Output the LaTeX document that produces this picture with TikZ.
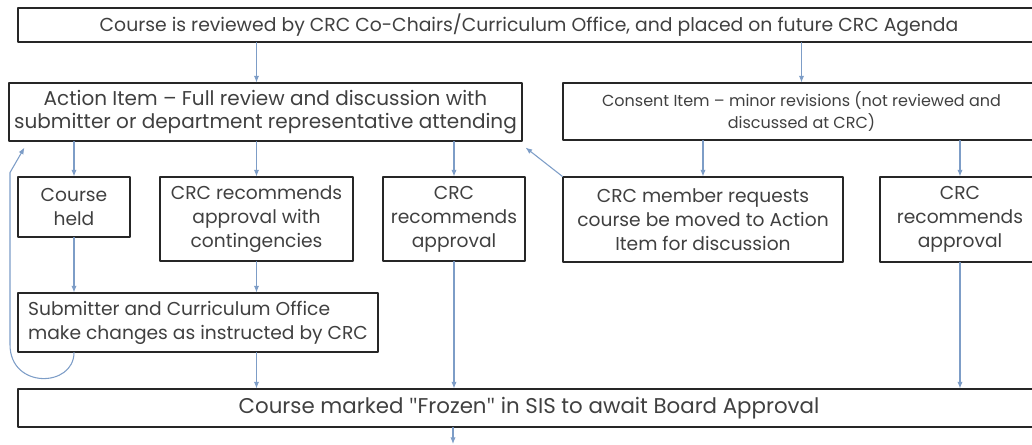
\documentclass[tikz,border=0pt]{standalone}
\usepackage{fontspec}
\setmainfont{Poppins}
\newfontfamily\quotefont{Open Sans}
\usetikzlibrary{arrows.meta,calc,positioning}
\definecolor{linkblue}{RGB}{125,157,199}
\definecolor{inkgray}{RGB}{64,64,64}

\begin{document}
\begin{tikzpicture}[x=0.75pt, y=-0.75pt, >={Latex[length=5pt,width=4pt]},
    line cap=round, line join=round,
    box/.style={draw=black!85, line width=0.8pt, text=inkgray, align=center,
      inner sep=1pt, font=\fontsize{14}{18}\selectfont},
    sz/.style 2 args={minimum width=#1*0.75pt, minimum height=#2*0.75pt},
    link/.style={->, draw=linkblue, line width=0.8pt}]

    \useasboundingbox (0,0) rectangle (1032,445);

    % top row
    \node[box, sz={1022}{34}, font=\fontsize{14.1}{18}\selectfont] (top) at (529,25)
      {Course is reviewed by CRC Co-Chairs/Curriculum Office, and placed on future CRC Agenda};

    % action and consent items
    \node[box, sz={513}{58}, font=\fontsize{15}{17.5}\selectfont] (action) at (265.5,112)
      {Action Item -- Full review and discussion with\\submitter or department representative attending};
    \node[box, sz={477}{57}, font=\fontsize{12}{16.5}\selectfont] (consent) at (801.5,111.5)
      {Consent Item -- minor revisions (not reviewed and\\discussed at CRC)};

    % outcomes
    \node[box, sz={112}{60}] (held) at (74,207) {Course\\held};
    \node[box, sz={193}{84}] (cont) at (256.5,219) {CRC recommends\\approval with\\contingencies};
    \node[box, sz={142}{84}] (apprA) at (454,219) {CRC\\recommends\\approval};
    \node[box, sz={280}{85}] (member) at (703,219.5) {CRC member requests\\course be moved to Action\\Item for discussion};
    \node[box, sz={160}{85}] (apprB) at (960,219.5) {CRC\\recommends\\approval};

    % changes
    \node[box, sz={360}{59}, align=left] (sub) at (198,322.5)
      {Submitter and Curriculum Office\\make changes as instructed by CRC};

    % bottom row
    \node[box, sz={1022}{38}, font=\fontsize{16}{18}\selectfont] (frozen) at (529,408)
      {Course marked {\quotefont\char34}Frozen{\quotefont\char34} in SIS to await Board Approval};
    \coordinate (exit) at (453,444);

    % connectors
    \draw[link] (top.south -| cont.north) -- (action.north -| cont.north);
    \draw[link] (top.south -| consent.north) -- (consent.north);
    \draw[link] (action.south -| held.north) -- (held.north);
    \draw[link] (action.south -| cont.north) -- (cont.north);
    \draw[link] (action.south -| apprA.north) -- (apprA.north);
    \draw[link] (consent.south -| member.north) -- (member.north);
    \draw[link] (consent.south -| apprB.north) -- (apprB.north);
    \draw[link] (member.north west) -- ($(action.south east)+(3,6)$);
    \draw[link] (held.south) -- (sub.north -| held.south);
    \draw[link] (cont.south) -- (sub.north -| cont.south);
    \draw[link] (sub.south -| cont.south) -- (frozen.north -| cont.south);
    \draw[link] (apprA.south) -- (frozen.north -| apprA.south);
    \draw[link] (apprB.south) -- (frozen.north -| apprB.south);
    \draw[link] (frozen.south -| exit) -- (exit);

    % loop back from changes to action item
    \draw[link] (sub.south -| held.south) .. controls +(0,35) and +(0,45) .. ++(-64,-8)
      -- ++(0,-172) -- ($(action.south west)+(16,6)$);

\end{tikzpicture}
\end{document}
